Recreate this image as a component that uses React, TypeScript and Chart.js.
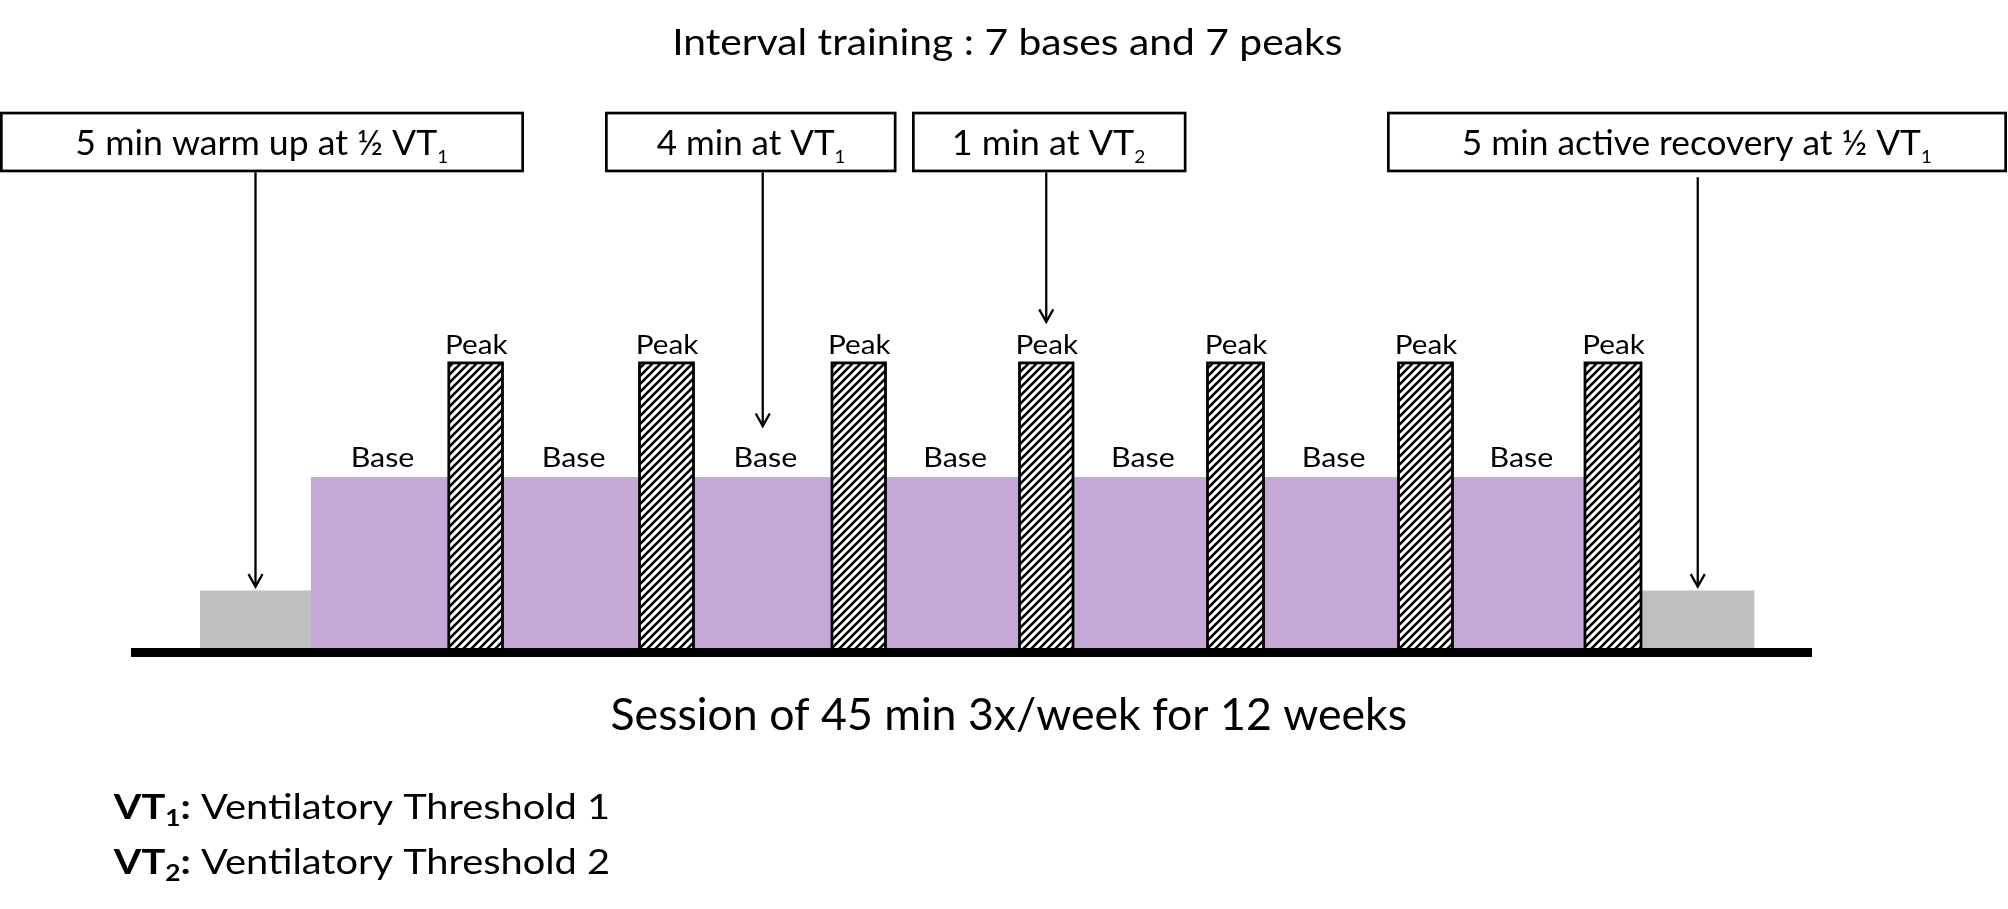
import React, { useEffect, useRef } from "react";
import { Chart, registerables } from "chart.js";

Chart.register(...registerables);

// ---------------- data ----------------
const titleText = "Interval training : 7 bases and 7 peaks";
const footerText = "Session of 45 min 3x/week for 12 weeks";

const phaseKinds = [
  "warmup", "base", "peak", "base", "peak", "base", "peak", "base", "peak",
  "base", "peak", "base", "peak", "base", "peak", "recovery",
];
const phaseLabels = [
  "", "Base", "Peak", "Base", "Peak", "Base", "Peak", "Base", "Peak",
  "Base", "Peak", "Base", "Peak", "Base", "Peak", "",
];
// visual length of each phase along the session line (diagram units)
const phaseSpans = [
  11.1, 13.78, 5.37, 13.7, 5.4, 13.85, 5.35, 13.4, 5.35,
  13.45, 5.6, 13.5, 5.4, 13.25, 5.6, 11.35,
];
// intensity level of each phase (½ VT1, VT1, VT2)
const phaseLevels = [
  1, 2.98, 4.97, 2.98, 4.97, 2.98, 4.97, 2.98, 4.97,
  2.98, 4.97, 2.98, 4.97, 2.98, 4.97, 1,
];
const timelineStart = -6.45;
const timelineEnd = 161.15;
const levelMin = -0.08;
const levelMax = 10.95;

type Run = { text: string; bold?: boolean; sub?: boolean };

const calloutTexts: Run[][] = [
  [{ text: "5 min warm up at ½ VT" }, { text: "1", sub: true }],
  [{ text: "4 min at VT" }, { text: "1", sub: true }],
  [{ text: "1 min at VT" }, { text: "2", sub: true }],
  [{ text: "5 min active recovery at ½ VT" }, { text: "1", sub: true }],
];
const calloutTargets = [0, 5, 8, 15];

const legendEntries: Run[][] = [
  [
    { text: "VT", bold: true },
    { text: "1", bold: true, sub: true },
    { text: ":", bold: true },
    { text: " Ventilatory Threshold 1" },
  ],
  [
    { text: "VT", bold: true },
    { text: "2", bold: true, sub: true },
    { text: ":", bold: true },
    { text: " Ventilatory Threshold 2" },
  ],
];

// ---------------- layout / style ----------------
const FONT = "Lato, 'Open Sans', 'DejaVu Sans', sans-serif";
const COLORS: Record<string, string> = {
  warmup: "#BFBFBF",
  recovery: "#BFBFBF",
  base: "#C4A9D6",
};
const L = {
  title: { cx: 1008.5, baseline: 55, cap: 26.7, width: 666 },
  footer: { cx: 1008.8, baseline: 730, cap: 32, width: 794.5 },
  boxes: [
    [0, 524],
    [605, 896.5],
    [912, 1186.5],
    [1387, 2007],
  ],
  boxTop: 111.7,
  boxBottom: 172.3,
  boxLine: 2.7,
  boxText: { baseline: 155, cap: 25, subScale: 0.53, subDrop: 8.3 },
  boxTextWidths: [371.2, 188, 191, 468.5],
  arrowStartGap: [0, 0, 0, 5],
  arrowTipGap: [3.9, 51, 41, 3.9],
  arrowLine: 2.3,
  headHalf: 7,
  headLen: 12.5,
  legend: { x: 112.7, baselines: [819, 874], cap: 25, width: 495.3, subScale: 0.66, subDrop: 7 },
  peakLabel: { gap: 8.9, cap: 19.3, width: 61, dx: 2 },
  baseLabel: { gap: 10.3, cap: 20, width: 61, dx: 3.5 },
};

function drawRuns(
  ctx: CanvasRenderingContext2D,
  runs: Run[],
  o: { x: number; align: "left" | "center"; baseline: number; cap: number; width: number; subScale?: number; subDrop?: number }
) {
  ctx.save();
  ctx.font = `normal 100px ${FONT}`;
  const capRatio = ctx.measureText("H").actualBoundingBoxAscent / 100 || 0.72;
  const size = o.cap / capRatio;
  const subScale = o.subScale ?? 0.6;
  const subDrop = o.subDrop ?? 0;
  const pieces = runs.map((r) => {
    const s = r.sub ? size * subScale : size;
    const font = `${r.bold ? "bold" : "normal"} ${s.toFixed(2)}px ${FONT}`;
    ctx.font = font;
    const m = ctx.measureText(r.text);
    return { r, font, adv: m.width, left: m.actualBoundingBoxLeft, right: m.actualBoundingBoxRight };
  });
  let pos = 0;
  let inkL = Infinity;
  let inkR = -Infinity;
  const starts: number[] = [];
  for (const p of pieces) {
    starts.push(pos);
    if (p.r.text.trim()) {
      inkL = Math.min(inkL, pos - p.left);
      inkR = Math.max(inkR, pos + p.right);
    }
    pos += p.adv;
  }
  const natural = inkR - inkL;
  const sx = o.width / natural;
  const left = o.align === "center" ? o.x - o.width / 2 : o.x;
  ctx.translate(left - inkL * sx, o.baseline);
  ctx.scale(sx, 1);
  ctx.fillStyle = "#000";
  ctx.textAlign = "left";
  ctx.textBaseline = "alphabetic";
  pieces.forEach((p, i) => {
    ctx.font = p.font;
    ctx.fillText(p.r.text, starts[i], p.r.sub ? subDrop : 0);
  });
  ctx.restore();
}

function phaseStarts(): number[] {
  const s: number[] = [];
  let acc = 0;
  for (const w of phaseSpans) {
    s.push(acc);
    acc += w;
  }
  return s;
}

const overlayPlugin = {
  id: "diagramOverlay",
  afterDraw(chart: any) {
    const ctx: CanvasRenderingContext2D = chart.ctx;
    const xs = chart.scales.x;
    const ys = chart.scales.y;
    const starts = phaseStarts();
    const centerPx = (i: number) => xs.getPixelForValue(starts[i] + phaseSpans[i] / 2);
    const topPx = (i: number) => ys.getPixelForValue(phaseLevels[i]);

    // phase labels
    phaseLabels.forEach((lab, i) => {
      if (!lab) return;
      const spec = phaseKinds[i] === "peak" ? L.peakLabel : L.baseLabel;
      drawRuns(ctx, [{ text: lab }], {
        x: centerPx(i) + spec.dx,
        align: "center",
        baseline: topPx(i) - spec.gap,
        cap: spec.cap,
        width: spec.width,
      });
    });

    // callout boxes and arrows
    calloutTexts.forEach((runs, k) => {
      const [x0, x1] = L.boxes[k];
      const lw = L.boxLine;
      ctx.save();
      ctx.fillStyle = "#fff";
      ctx.fillRect(x0, L.boxTop, x1 - x0, L.boxBottom - L.boxTop);
      ctx.strokeStyle = "#000";
      ctx.lineWidth = lw;
      ctx.strokeRect(x0 + lw / 2, L.boxTop + lw / 2, x1 - x0 - lw, L.boxBottom - L.boxTop - lw);
      ctx.restore();
      drawRuns(ctx, runs, {
        x: (x0 + x1) / 2,
        align: "center",
        baseline: L.boxText.baseline,
        cap: L.boxText.cap,
        width: L.boxTextWidths[k],
        subScale: L.boxText.subScale,
        subDrop: L.boxText.subDrop,
      });

      const t = calloutTargets[k];
      const ax = centerPx(t);
      const y0 = L.boxBottom + L.arrowStartGap[k];
      const tip = topPx(t) - L.arrowTipGap[k];
      ctx.save();
      ctx.strokeStyle = "#000";
      ctx.lineWidth = L.arrowLine;
      ctx.beginPath();
      ctx.moveTo(ax, y0);
      ctx.lineTo(ax, tip);
      ctx.stroke();
      ctx.beginPath();
      ctx.moveTo(ax - L.headHalf, tip - L.headLen);
      ctx.lineTo(ax, tip);
      ctx.lineTo(ax + L.headHalf, tip - L.headLen);
      ctx.stroke();
      ctx.restore();
    });

    // title and footer
    drawRuns(ctx, [{ text: titleText }], {
      x: L.title.cx,
      align: "center",
      baseline: L.title.baseline,
      cap: L.title.cap,
      width: L.title.width,
    });
    drawRuns(ctx, [{ text: footerText }], {
      x: L.footer.cx,
      align: "center",
      baseline: L.footer.baseline,
      cap: L.footer.cap,
      width: L.footer.width,
    });

    // legend
    legendEntries.forEach((runs, k) => {
      drawRuns(ctx, runs, {
        x: L.legend.x,
        align: "left",
        baseline: L.legend.baselines[k],
        cap: L.legend.cap,
        width: L.legend.width,
        subScale: L.legend.subScale,
        subDrop: L.legend.subDrop,
      });
    });
  },
};

function makeHatch(): CanvasPattern | string {
  const c = document.createElement("canvas");
  const s = 8;
  c.width = s;
  c.height = s;
  const g = c.getContext("2d");
  if (!g) return "#888";
  g.fillStyle = "#fff";
  g.fillRect(0, 0, s, s);
  g.strokeStyle = "#000";
  g.lineWidth = 2.6;
  for (const a of [-s, 0, s]) {
    g.beginPath();
    g.moveTo(a - 1, s + 1);
    g.lineTo(a + s + 1, -1);
    g.stroke();
  }
  const p = g.createPattern(c, "repeat");
  return p || "#888";
}

export default function App() {
  const ref = useRef<HTMLCanvasElement>(null);

  useEffect(() => {
    const canvas = ref.current;
    if (!canvas) return;
    const hatch = makeHatch();
    const starts = phaseStarts();

    const datasets = phaseKinds.map((kind, i) => {
      const x0 = starts[i];
      const x1 = x0 + phaseSpans[i];
      const h = phaseLevels[i];
      const isPeak = kind === "peak";
      return {
        label: phaseLabels[i] || kind,
        data: [
          { x: x0, y: 0 },
          { x: x0, y: h },
          { x: x1, y: h },
          { x: x1, y: 0 },
        ],
        fill: "origin",
        backgroundColor: isPeak ? hatch : COLORS[kind],
        borderColor: isPeak ? "#000" : "rgba(0,0,0,0)",
        borderWidth: isPeak ? 2.8 : 0,
        borderJoinStyle: "miter",
        borderCapStyle: "butt",
        pointRadius: 0,
        pointHoverRadius: 0,
        tension: 0,
        order: isPeak ? 0 : 1,
      };
    });

    const chart = new Chart(canvas, {
      type: "line",
      data: { datasets: datasets as any },
      options: {
        responsive: false,
        animation: false,
        events: [],
        layout: { padding: { left: 135.5, right: 196.5, top: 20, bottom: 256.5 } },
        plugins: {
          legend: { display: false },
          tooltip: { enabled: false },
          title: { display: false },
        },
        scales: {
          x: {
            type: "linear",
            min: timelineStart,
            max: timelineEnd,
            display: true,
            grid: { display: false, drawTicks: false },
            ticks: { display: false },
            border: { display: true, color: "#000", width: 9 },
          },
          y: {
            type: "linear",
            min: levelMin,
            max: levelMax,
            display: false,
          },
        },
      } as any,
      plugins: [overlayPlugin],
    });
    return () => chart.destroy();
  }, []);

  return (
    <div style={{ position: "fixed", left: 0, top: 0, width: 2008, height: 909, background: "#fff" }}>
      <canvas ref={ref} width={2008} height={909} style={{ display: "block", width: 2008, height: 909 }} />
    </div>
  );
}
